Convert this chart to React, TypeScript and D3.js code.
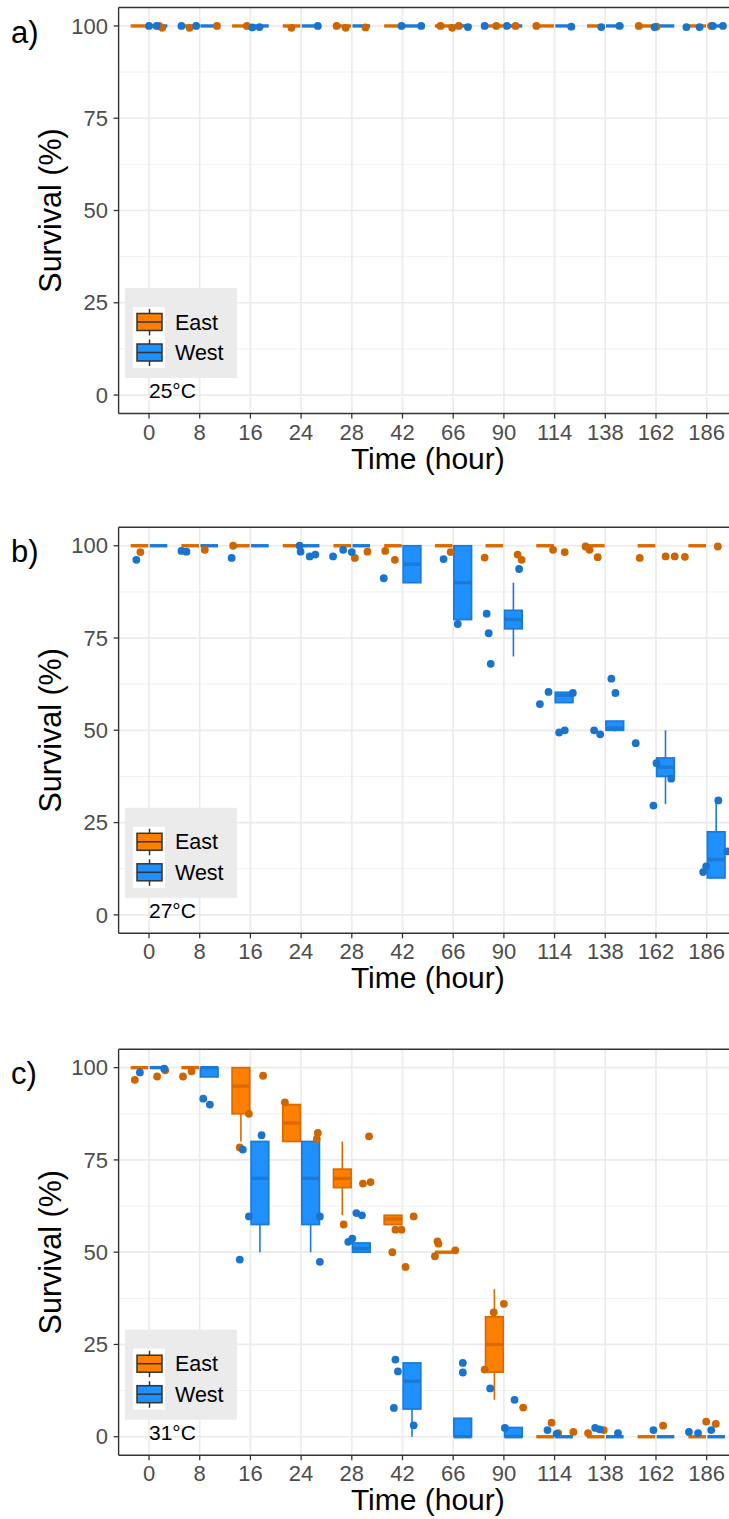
import React from "react";
import * as d3 from "d3";

const times = [0, 8, 16, 24, 28, 42, 66, 90, 114, 138, 162, 186];
const yTicks = [0, 25, 50, 75, 100];
const yMinor = [12.5, 37.5, 62.5, 87.5];
const groups = ["East", "West"];
const temps = ["25°C", "27°C", "31°C"];
const tags = ["a)", "b)", "c)"];

// box stats per time: [lower whisker, q1, median, q3, upper whisker]
const eastBoxA = [
  [100, 100, 100, 100, 100], [100, 100, 100, 100, 100], [100, 100, 100, 100, 100], [100, 100, 100, 100, 100],
  [100, 100, 100, 100, 100], [100, 100, 100, 100, 100], [100, 100, 100, 100, 100], [100, 100, 100, 100, 100],
  [100, 100, 100, 100, 100], [100, 100, 100, 100, 100], [100, 100, 100, 100, 100], [100, 100, 100, 100, 100],
];
const westBoxA = [
  [100, 100, 100, 100, 100], [100, 100, 100, 100, 100], [100, 100, 100, 100, 100], [100, 100, 100, 100, 100],
  [100, 100, 100, 100, 100], [100, 100, 100, 100, 100], [100, 100, 100, 100, 100], [100, 100, 100, 100, 100],
  [100, 100, 100, 100, 100], [100, 100, 100, 100, 100], [100, 100, 100, 100, 100], [100, 100, 100, 100, 100],
];
const eastBoxB = [
  [100, 100, 100, 100, 100], [100, 100, 100, 100, 100], [100, 100, 100, 100, 100], [100, 100, 100, 100, 100],
  [100, 100, 100, 100, 100], [100, 100, 100, 100, 100], [100, 100, 100, 100, 100], [100, 100, 100, 100, 100],
  [100, 100, 100, 100, 100], [100, 100, 100, 100, 100], [100, 100, 100, 100, 100], [100, 100, 100, 100, 100],
];
const westBoxB = [
  [100, 100, 100, 100, 100], [100, 100, 100, 100, 100], [100, 100, 100, 100, 100], [100, 100, 100, 100, 100],
  [100, 100, 100, 100, 100], [90, 90, 95, 100, 100], [80, 80, 90, 100, 100], [70, 77.5, 80, 82.5, 90],
  [57.5, 57.5, 59.5, 60.3, 60.3], [49.7, 50, 50.6, 52.5, 52.5], [30, 37.5, 40, 42.5, 50], [10, 10, 15, 22.5, 31],
];
const eastBoxC = [
  [100, 100, 100, 100, 100], [100, 100, 100, 100, 100], [80, 87.5, 95, 100, 100], [80, 80, 85, 90, 90],
  [60, 67.5, 70, 72.5, 80], [57.5, 57.5, 59, 60, 60], [50, 50, 50, 50, 50], [10, 17.5, 25, 32.5, 40],
  [0, 0, 0, 0, 0], [0, 0, 0, 0, 0], [0, 0, 0, 0, 0], [0, 0, 0, 0, 0],
];
const westBoxC = [
  [100, 100, 100, 100, 100], [97.5, 97.5, 100, 100, 100], [50, 57.5, 70, 80, 80], [50, 57.5, 70, 80, 80],
  [50, 50, 51, 52.5, 52.5], [0, 7.5, 15, 20, 20], [0, 0, 0, 5, 5], [0, 0, 0, 2.5, 2.5],
  [0, 0, 0, 0, 0], [0, 0, 0, 0, 0], [0, 0, 0, 0, 0], [0, 0, 0, 0, 0],
];

// jittered replicates: [time, jitter (fraction of category step), survival]
const eastPtsA = [
  [0, 0.2, 100], [0, 0.26, 99.5], [8, -0.2, 99.5], [8, 0.34, 100], [16, -0.07, 100], [24, -0.19, 99.5],
  [28, -0.3, 100], [28, -0.12, 99.5], [28, 0.27, 99.6], [66, -0.25, 100], [66, -0.02, 99.5], [66, 0.11, 100],
  [90, -0.15, 100], [90, 0.23, 100], [114, -0.36, 100], [162, -0.34, 100], [162, 0.01, 99.8], [186, 0.09, 100],
];
const westPtsA = [
  [0, 0.0, 100], [0, 0.15, 100], [8, -0.36, 100], [8, -0.07, 100], [16, 0.04, 99.6], [16, 0.18, 99.7],
  [24, 0.33, 100], [42, -0.02, 100], [42, 0.37, 100], [66, 0.29, 99.7], [90, -0.38, 100], [90, 0.06, 100],
  [114, 0.33, 99.8], [138, -0.08, 99.7], [138, 0.28, 100], [162, -0.03, 99.7], [186, -0.4, 99.7],
  [186, -0.14, 99.7], [186, 0.12, 100], [186, 0.32, 100],
];
const eastPtsB = [
  [0, -0.17, 98.3], [8, 0.1, 98.9], [16, -0.34, 100], [28, 0.06, 96.7], [28, 0.31, 98.4], [42, -0.34, 98.6],
  [42, -0.15, 96.2], [66, -0.05, 98.3], [90, -0.38, 96.8], [90, 0.27, 97.6], [90, 0.35, 96.2], [114, -0.03, 98.9],
  [114, 0.2, 98.3], [138, -0.39, 99.8], [138, -0.31, 98.9], [138, -0.15, 96.9], [162, -0.32, 96.7],
  [162, 0.19, 97.1], [162, 0.37, 97.1], [186, -0.43, 97.0], [186, 0.22, 99.8],
];
const westPtsB = [
  [0, -0.25, 96.2], [8, -0.36, 98.6], [8, -0.26, 98.4], [16, -0.37, 96.7], [24, -0.03, 100], [24, -0.01, 98.4],
  [24, 0.17, 97.1], [24, 0.28, 97.6], [28, -0.37, 97.1], [28, -0.17, 98.9], [28, 0.0, 98.3], [42, -0.37, 91.2],
  [66, -0.19, 96.4], [66, 0.09, 78.8], [90, -0.34, 81.6], [90, -0.3, 76.3], [90, -0.26, 68.0], [90, 0.3, 93.7],
  [114, -0.29, 57.1], [114, -0.12, 60.4], [114, 0.36, 60.1], [114, 0.09, 49.4], [114, 0.2, 50.0],
  [138, -0.22, 50.0], [138, -0.1, 48.9], [138, 0.12, 64.0], [138, 0.2, 60.1], [162, -0.4, 46.5],
  [162, -0.05, 29.6], [162, 0.01, 41.1], [162, 0.3, 36.9], [186, -0.07, 11.6], [186, -0.01, 13.1],
  [186, 0.23, 31.0], [186, 0.41, 17.2],
];
const eastPtsC = [
  [0, -0.28, 96.7], [0, 0.16, 97.6], [0, 0.32, 99.3], [8, -0.33, 97.6], [8, -0.16, 99.0], [16, -0.21, 78.4],
  [16, -0.03, 87.5], [16, 0.25, 97.8], [24, -0.32, 90.6], [24, 0.33, 82.3], [24, 0.31, 80.7], [28, -0.16, 57.5],
  [28, 0.22, 68.6], [28, 0.37, 69.0], [28, 0.34, 81.4], [42, -0.2, 50.0], [42, -0.14, 56.1], [42, -0.02, 56.1],
  [42, 0.06, 46.0], [42, 0.22, 59.7], [66, -0.36, 48.9], [66, -0.31, 52.9], [66, -0.29, 52.3], [66, 0.04, 50.5],
  [90, -0.38, 18.2], [90, -0.2, 33.7], [90, 0.0, 36.0], [90, 0.38, 7.9], [114, -0.06, 3.8], [114, 0.07, 1.0],
  [114, 0.37, 1.3], [138, -0.34, 1.0], [138, -0.03, 1.8], [162, 0.14, 3.0], [186, -0.01, 4.1], [186, 0.18, 3.5],
];
const westPtsC = [
  [0, -0.18, 98.7], [0, 0.3, 99.7], [8, 0.07, 91.6], [8, 0.2, 90.0], [16, -0.15, 77.8], [16, -0.21, 48.0],
  [16, -0.03, 59.7], [16, 0.22, 81.7], [24, 0.37, 59.7], [24, 0.37, 47.4], [28, -0.07, 52.8], [28, 0.01, 53.7],
  [28, 0.09, 60.6], [28, 0.2, 60.0], [42, -0.14, 20.9], [42, -0.09, 17.7], [42, -0.17, 7.8], [42, 0.22, 3.1],
  [66, 0.19, 20.0], [66, 0.19, 17.4], [90, -0.27, 13.1], [90, 0.21, 10.0], [90, 0.02, 2.4], [114, -0.14, 1.8],
  [114, 0.04, 0.8], [138, -0.2, 2.4], [138, -0.11, 2.0], [138, 0.25, 1.0], [162, -0.05, 1.8], [186, -0.35, 1.3],
  [186, -0.17, 1.0], [186, 0.09, 1.8],
];

const panels = [
  { boxes: [eastBoxA, westBoxA], pts: [eastPtsA, westPtsA] },
  { boxes: [eastBoxB, westBoxB], pts: [eastPtsB, westPtsB] },
  { boxes: [eastBoxC, westBoxC], pts: [eastPtsC, westPtsC] },
];

const W = 729;
const H = 1519;
const panelTops = [7.5, 527.3, 1049.2];
const panelH = 406;
const left = 118.6;
const right = 737.1;
const font = "'Liberation Sans', Arial, Helvetica, sans-serif";

const fillCol = ["#FF8000", "#1E90FF"];
const lineCol = ["#D96A00", "#1A7AD6"];
const pointCol = ["#CD6600", "#1874CD"];

function Panel({ idx }: { idx: number }) {
  const top = panelTops[idx];
  const bottom = top + panelH;
  const { boxes, pts } = panels[idx];

  const x = d3.scalePoint<number>().domain(times).range([left, right]).padding(0.6);
  const step = x.step();
  const y = d3.scaleLinear().domain([-5, 105]).range([bottom, top]);
  const half = 0.375 * step;

  const lgX = 125;
  const lgY = top + 280.5;

  return (
    <g>
      <rect x={left} y={top} width={right - left} height={panelH} fill="#fff" />
      {yMinor.map((v) => (
        <line key={"mi" + v} x1={left} x2={right} y1={y(v)} y2={y(v)} stroke="#F0F0F0" strokeWidth={1} />
      ))}
      {yTicks.map((v) => (
        <line key={"ma" + v} x1={left} x2={right} y1={y(v)} y2={y(v)} stroke="#EBEBEB" strokeWidth={1.7} />
      ))}
      {times.map((t) => (
        <line key={"vx" + t} x1={x(t)} x2={x(t)} y1={top} y2={bottom} stroke="#EBEBEB" strokeWidth={1.7} />
      ))}

      {groups.map((g, gi) =>
        boxes[gi].map((b, i) => {
          const cx = x(times[i])!;
          const x0 = gi === 0 ? cx - half + 0.7 : cx + 0.7;
          const x1 = gi === 0 ? cx - 0.7 : cx + half - 0.7;
          const mid = (x0 + x1) / 2;
          const [lo, q1, med, q3, hi] = b;
          return (
            <g key={g + i}>
              <line x1={mid} x2={mid} y1={y(q3)} y2={y(hi)} stroke={lineCol[gi]} strokeWidth={1.6} />
              <line x1={mid} x2={mid} y1={y(q1)} y2={y(lo)} stroke={lineCol[gi]} strokeWidth={1.6} />
              <rect
                x={x0}
                y={y(q3)}
                width={x1 - x0}
                height={y(q1) - y(q3)}
                fill={fillCol[gi]}
                stroke={lineCol[gi]}
                strokeWidth={1.7}
              />
              <line x1={x0} x2={x1} y1={y(med)} y2={y(med)} stroke={lineCol[gi]} strokeWidth={3.4} />
            </g>
          );
        })
      )}

      {groups.map((g, gi) =>
        pts[gi].map((p, i) => (
          <circle
            key={g + "p" + i}
            cx={x(p[0])! + p[1] * step}
            cy={y(p[2])}
            r={3.9}
            fill={pointCol[gi]}
          />
        ))
      )}

      <line x1={left} x2={left} y1={top} y2={bottom} stroke="#333" strokeWidth={1.4} />
      <line x1={left} x2={right} y1={bottom} y2={bottom} stroke="#333" strokeWidth={1.4} />
      <line x1={left} x2={right} y1={top} y2={top} stroke="#333" strokeWidth={1.4} />

      {yTicks.map((v) => (
        <g key={"yt" + v}>
          <line x1={left - 5} x2={left} y1={y(v)} y2={y(v)} stroke="#333" strokeWidth={1.3} />
          <text x={108} y={y(v)} dy="0.35em" textAnchor="end" fontSize={22} fill="#4D4D4D" fontFamily={font}>
            {v}
          </text>
        </g>
      ))}
      {times.map((t) => (
        <g key={"xt" + t}>
          <line x1={x(t)} x2={x(t)} y1={bottom} y2={bottom + 5} stroke="#333" strokeWidth={1.3} />
          <text x={x(t)} y={bottom + 26} textAnchor="middle" fontSize={22} fill="#4D4D4D" fontFamily={font}>
            {t}
          </text>
        </g>
      ))}

      <text x={(left + right) / 2} y={bottom + 55} textAnchor="middle" fontSize={30} fill="#000" fontFamily={font}>
        Time (hour)
      </text>
      <text
        transform={`translate(61,${top + panelH / 2}) rotate(-90)`}
        textAnchor="middle"
        fontSize={30.5}
        fill="#000"
        fontFamily={font}
      >
        Survival (%)
      </text>
      <text x={11} y={top + 35} fontSize={31} fill="#000" fontFamily={font}>
        {tags[idx]}
      </text>

      <rect x={lgX} y={lgY} width={112} height={90} fill="#EBEBEB" />
      {groups.map((g, gi) => {
        const ky = lgY + 19 + gi * 30.5;
        return (
          <g key={"lg" + g}>
            <rect x={lgX + 8} y={ky} width={32} height={30.5} fill="#fff" />
            <line x1={lgX + 24.5} x2={lgX + 24.5} y1={ky + 2} y2={ky + 28.5} stroke="#333" strokeWidth={1.5} />
            <rect x={lgX + 12} y={ky + 6.5} width={25} height={17} fill={fillCol[gi]} stroke="#333" strokeWidth={1.5} />
            <line x1={lgX + 12} x2={lgX + 37} y1={ky + 15} y2={ky + 15} stroke="#333" strokeWidth={1.5} />
            <text x={lgX + 50} y={ky + 15} dy="0.35em" fontSize={21.5} fill="#000" fontFamily={font}>
              {g}
            </text>
          </g>
        );
      })}
      <text x={149} y={top + 390.5} fontSize={21} fill="#000" fontFamily={font}>
        {temps[idx]}
      </text>
    </g>
  );
}

export default function App() {
  return (
    <svg
      width={W}
      height={H}
      style={{ position: "absolute", left: 0, top: 0, background: "#fff" }}
    >
      <rect width={W} height={H} fill="#fff" />
      {panels.map((_, i) => (
        <Panel key={i} idx={i} />
      ))}
    </svg>
  );
}
